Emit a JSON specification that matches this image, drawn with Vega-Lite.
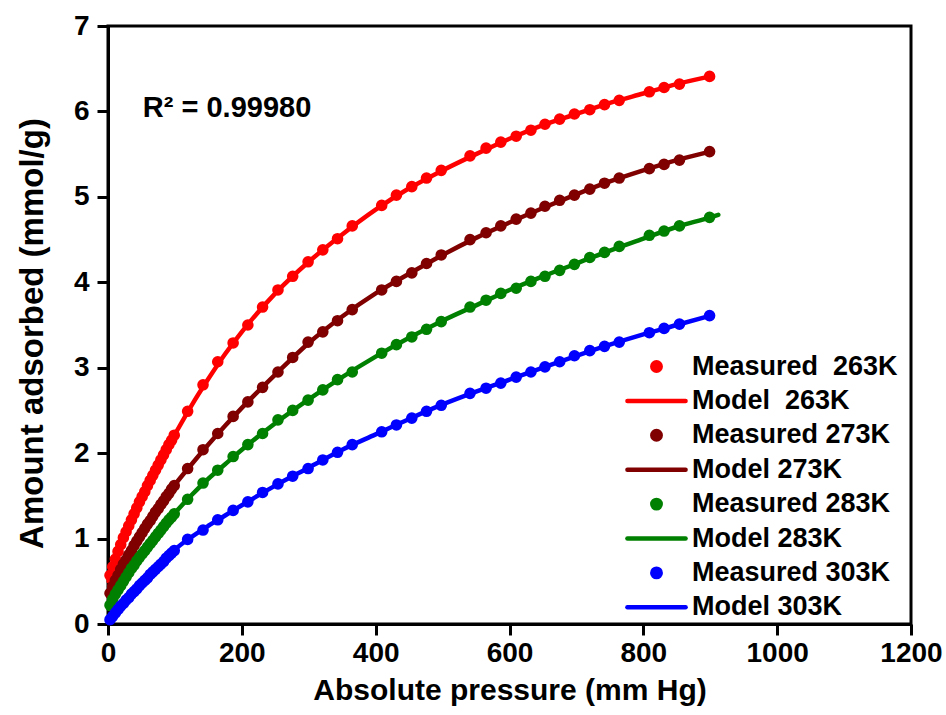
{
  "$schema": "https://vega.github.io/schema/vega-lite/v6.json",
  "autosize": "none",
  "width": 803,
  "height": 598,
  "padding": {"left": 108, "top": 26, "right": 35, "bottom": 91},
  "background": "white",
  "config": {
    "font": "Liberation Sans",
    "view": {"stroke": "black", "strokeWidth": 3},
    "axis": {
      "grid": false,
      "labelFont": "Liberation Sans", "labelFontSize": 28, "labelFontWeight": "bold", "labelColor": "black",
      "titleFont": "Liberation Sans", "titleFontSize": 30, "titleFontWeight": "bold", "titleColor": "black",
      "domainColor": "black", "domainWidth": 3, "tickColor": "black", "tickWidth": 3, "tickSize": 11
    }
  },
  "datasets": {
    "meas": [
      {"P":3,"q":0.57,"s":"Measured 263K"},{"P":7,"q":0.67,"s":"Measured 263K"},{"P":11,"q":0.76,"s":"Measured 263K"},{"P":15,"q":0.85,"s":"Measured 263K"},{"P":19,"q":0.93,"s":"Measured 263K"},{"P":23,"q":1.01,"s":"Measured 263K"},{"P":27,"q":1.08,"s":"Measured 263K"},{"P":31,"q":1.15,"s":"Measured 263K"},{"P":35,"q":1.22,"s":"Measured 263K"},{"P":39,"q":1.29,"s":"Measured 263K"},{"P":43,"q":1.36,"s":"Measured 263K"},{"P":47,"q":1.43,"s":"Measured 263K"},{"P":51,"q":1.49,"s":"Measured 263K"},{"P":55,"q":1.55,"s":"Measured 263K"},{"P":59,"q":1.62,"s":"Measured 263K"},{"P":63,"q":1.68,"s":"Measured 263K"},{"P":67,"q":1.74,"s":"Measured 263K"},{"P":71,"q":1.80,"s":"Measured 263K"},{"P":75,"q":1.86,"s":"Measured 263K"},{"P":79,"q":1.92,"s":"Measured 263K"},{"P":83,"q":1.98,"s":"Measured 263K"},{"P":87,"q":2.04,"s":"Measured 263K"},{"P":91,"q":2.10,"s":"Measured 263K"},{"P":95,"q":2.15,"s":"Measured 263K"},{"P":99,"q":2.21,"s":"Measured 263K"},
      {"P":119,"q":2.49,"s":"Measured 263K"},{"P":142,"q":2.80,"s":"Measured 263K"},{"P":164,"q":3.07,"s":"Measured 263K"},{"P":187,"q":3.29,"s":"Measured 263K"},{"P":209,"q":3.50,"s":"Measured 263K"},{"P":231,"q":3.71,"s":"Measured 263K"},{"P":254,"q":3.91,"s":"Measured 263K"},{"P":276,"q":4.07,"s":"Measured 263K"},{"P":299,"q":4.24,"s":"Measured 263K"},{"P":321,"q":4.38,"s":"Measured 263K"},{"P":343,"q":4.51,"s":"Measured 263K"},{"P":365,"q":4.66,"s":"Measured 263K"},{"P":409,"q":4.90,"s":"Measured 263K"},{"P":431,"q":5.02,"s":"Measured 263K"},{"P":454,"q":5.12,"s":"Measured 263K"},{"P":476,"q":5.22,"s":"Measured 263K"},{"P":498,"q":5.31,"s":"Measured 263K"},{"P":541,"q":5.48,"s":"Measured 263K"},{"P":565,"q":5.57,"s":"Measured 263K"},{"P":587,"q":5.64,"s":"Measured 263K"},{"P":610,"q":5.71,"s":"Measured 263K"},{"P":632,"q":5.78,"s":"Measured 263K"},{"P":653,"q":5.85,"s":"Measured 263K"},{"P":675,"q":5.91,"s":"Measured 263K"},{"P":697,"q":5.97,"s":"Measured 263K"},{"P":720,"q":6.02,"s":"Measured 263K"},{"P":742,"q":6.08,"s":"Measured 263K"},{"P":764,"q":6.13,"s":"Measured 263K"},{"P":809,"q":6.23,"s":"Measured 263K"},{"P":831,"q":6.28,"s":"Measured 263K"},{"P":854,"q":6.32,"s":"Measured 263K"},{"P":899,"q":6.41,"s":"Measured 263K"},

      {"P":3,"q":0.36,"s":"Measured 273K"},{"P":7,"q":0.44,"s":"Measured 273K"},{"P":11,"q":0.51,"s":"Measured 273K"},{"P":15,"q":0.57,"s":"Measured 273K"},{"P":19,"q":0.64,"s":"Measured 273K"},{"P":23,"q":0.70,"s":"Measured 273K"},{"P":27,"q":0.75,"s":"Measured 273K"},{"P":31,"q":0.81,"s":"Measured 273K"},{"P":35,"q":0.86,"s":"Measured 273K"},{"P":39,"q":0.92,"s":"Measured 273K"},{"P":43,"q":0.97,"s":"Measured 273K"},{"P":47,"q":1.02,"s":"Measured 273K"},{"P":51,"q":1.07,"s":"Measured 273K"},{"P":55,"q":1.12,"s":"Measured 273K"},{"P":59,"q":1.17,"s":"Measured 273K"},{"P":63,"q":1.21,"s":"Measured 273K"},{"P":67,"q":1.26,"s":"Measured 273K"},{"P":71,"q":1.31,"s":"Measured 273K"},{"P":75,"q":1.35,"s":"Measured 273K"},{"P":79,"q":1.40,"s":"Measured 273K"},{"P":83,"q":1.44,"s":"Measured 273K"},{"P":87,"q":1.49,"s":"Measured 273K"},{"P":91,"q":1.53,"s":"Measured 273K"},{"P":95,"q":1.58,"s":"Measured 273K"},{"P":99,"q":1.62,"s":"Measured 273K"},
      {"P":119,"q":1.82,"s":"Measured 273K"},{"P":142,"q":2.04,"s":"Measured 273K"},{"P":164,"q":2.23,"s":"Measured 273K"},{"P":187,"q":2.43,"s":"Measured 273K"},{"P":209,"q":2.60,"s":"Measured 273K"},{"P":231,"q":2.77,"s":"Measured 273K"},{"P":254,"q":2.95,"s":"Measured 273K"},{"P":276,"q":3.12,"s":"Measured 273K"},{"P":299,"q":3.30,"s":"Measured 273K"},{"P":321,"q":3.42,"s":"Measured 273K"},{"P":343,"q":3.55,"s":"Measured 273K"},{"P":365,"q":3.68,"s":"Measured 273K"},{"P":409,"q":3.91,"s":"Measured 273K"},{"P":431,"q":4.01,"s":"Measured 273K"},{"P":454,"q":4.11,"s":"Measured 273K"},{"P":476,"q":4.22,"s":"Measured 273K"},{"P":498,"q":4.32,"s":"Measured 273K"},{"P":541,"q":4.50,"s":"Measured 273K"},{"P":565,"q":4.58,"s":"Measured 273K"},{"P":587,"q":4.66,"s":"Measured 273K"},{"P":610,"q":4.74,"s":"Measured 273K"},{"P":632,"q":4.81,"s":"Measured 273K"},{"P":653,"q":4.89,"s":"Measured 273K"},{"P":675,"q":4.96,"s":"Measured 273K"},{"P":697,"q":5.02,"s":"Measured 273K"},{"P":720,"q":5.09,"s":"Measured 273K"},{"P":742,"q":5.16,"s":"Measured 273K"},{"P":764,"q":5.22,"s":"Measured 273K"},{"P":809,"q":5.33,"s":"Measured 273K"},{"P":831,"q":5.38,"s":"Measured 273K"},{"P":854,"q":5.43,"s":"Measured 273K"},{"P":899,"q":5.53,"s":"Measured 273K"},

      {"P":3,"q":0.22,"s":"Measured 283K"},{"P":7,"q":0.29,"s":"Measured 283K"},{"P":11,"q":0.35,"s":"Measured 283K"},{"P":15,"q":0.40,"s":"Measured 283K"},{"P":19,"q":0.45,"s":"Measured 283K"},{"P":23,"q":0.50,"s":"Measured 283K"},{"P":27,"q":0.55,"s":"Measured 283K"},{"P":31,"q":0.60,"s":"Measured 283K"},{"P":35,"q":0.65,"s":"Measured 283K"},{"P":39,"q":0.69,"s":"Measured 283K"},{"P":43,"q":0.74,"s":"Measured 283K"},{"P":47,"q":0.78,"s":"Measured 283K"},{"P":51,"q":0.82,"s":"Measured 283K"},{"P":55,"q":0.86,"s":"Measured 283K"},{"P":59,"q":0.90,"s":"Measured 283K"},{"P":63,"q":0.94,"s":"Measured 283K"},{"P":67,"q":0.98,"s":"Measured 283K"},{"P":71,"q":1.02,"s":"Measured 283K"},{"P":75,"q":1.06,"s":"Measured 283K"},{"P":79,"q":1.10,"s":"Measured 283K"},{"P":83,"q":1.14,"s":"Measured 283K"},{"P":87,"q":1.18,"s":"Measured 283K"},{"P":91,"q":1.22,"s":"Measured 283K"},{"P":95,"q":1.25,"s":"Measured 283K"},{"P":99,"q":1.29,"s":"Measured 283K"},
      {"P":119,"q":1.46,"s":"Measured 283K"},{"P":142,"q":1.65,"s":"Measured 283K"},{"P":164,"q":1.80,"s":"Measured 283K"},{"P":187,"q":1.96,"s":"Measured 283K"},{"P":209,"q":2.10,"s":"Measured 283K"},{"P":231,"q":2.23,"s":"Measured 283K"},{"P":254,"q":2.39,"s":"Measured 283K"},{"P":276,"q":2.50,"s":"Measured 283K"},{"P":299,"q":2.62,"s":"Measured 283K"},{"P":321,"q":2.74,"s":"Measured 283K"},{"P":343,"q":2.86,"s":"Measured 283K"},{"P":365,"q":2.95,"s":"Measured 283K"},{"P":409,"q":3.17,"s":"Measured 283K"},{"P":431,"q":3.27,"s":"Measured 283K"},{"P":454,"q":3.36,"s":"Measured 283K"},{"P":476,"q":3.45,"s":"Measured 283K"},{"P":498,"q":3.54,"s":"Measured 283K"},{"P":541,"q":3.71,"s":"Measured 283K"},{"P":565,"q":3.79,"s":"Measured 283K"},{"P":587,"q":3.87,"s":"Measured 283K"},{"P":610,"q":3.93,"s":"Measured 283K"},{"P":632,"q":4.01,"s":"Measured 283K"},{"P":653,"q":4.07,"s":"Measured 283K"},{"P":675,"q":4.14,"s":"Measured 283K"},{"P":697,"q":4.21,"s":"Measured 283K"},{"P":720,"q":4.29,"s":"Measured 283K"},{"P":742,"q":4.35,"s":"Measured 283K"},{"P":764,"q":4.42,"s":"Measured 283K"},{"P":809,"q":4.55,"s":"Measured 283K"},{"P":831,"q":4.60,"s":"Measured 283K"},{"P":854,"q":4.66,"s":"Measured 283K"},{"P":899,"q":4.76,"s":"Measured 283K"},

      {"P":3,"q":0.05,"s":"Measured 303K"},{"P":7,"q":0.09,"s":"Measured 303K"},{"P":11,"q":0.13,"s":"Measured 303K"},{"P":15,"q":0.17,"s":"Measured 303K"},{"P":19,"q":0.21,"s":"Measured 303K"},{"P":23,"q":0.24,"s":"Measured 303K"},{"P":27,"q":0.28,"s":"Measured 303K"},{"P":31,"q":0.31,"s":"Measured 303K"},{"P":35,"q":0.35,"s":"Measured 303K"},{"P":39,"q":0.38,"s":"Measured 303K"},{"P":43,"q":0.41,"s":"Measured 303K"},{"P":47,"q":0.45,"s":"Measured 303K"},{"P":51,"q":0.48,"s":"Measured 303K"},{"P":55,"q":0.51,"s":"Measured 303K"},{"P":59,"q":0.54,"s":"Measured 303K"},{"P":63,"q":0.58,"s":"Measured 303K"},{"P":67,"q":0.61,"s":"Measured 303K"},{"P":71,"q":0.64,"s":"Measured 303K"},{"P":75,"q":0.67,"s":"Measured 303K"},{"P":79,"q":0.70,"s":"Measured 303K"},{"P":83,"q":0.73,"s":"Measured 303K"},{"P":87,"q":0.77,"s":"Measured 303K"},{"P":91,"q":0.80,"s":"Measured 303K"},{"P":95,"q":0.83,"s":"Measured 303K"},{"P":99,"q":0.86,"s":"Measured 303K"},
      {"P":119,"q":0.99,"s":"Measured 303K"},{"P":142,"q":1.10,"s":"Measured 303K"},{"P":164,"q":1.22,"s":"Measured 303K"},{"P":187,"q":1.33,"s":"Measured 303K"},{"P":209,"q":1.43,"s":"Measured 303K"},{"P":231,"q":1.54,"s":"Measured 303K"},{"P":254,"q":1.64,"s":"Measured 303K"},{"P":276,"q":1.73,"s":"Measured 303K"},{"P":299,"q":1.82,"s":"Measured 303K"},{"P":321,"q":1.92,"s":"Measured 303K"},{"P":343,"q":2.01,"s":"Measured 303K"},{"P":365,"q":2.10,"s":"Measured 303K"},{"P":409,"q":2.25,"s":"Measured 303K"},{"P":431,"q":2.33,"s":"Measured 303K"},{"P":454,"q":2.41,"s":"Measured 303K"},{"P":476,"q":2.49,"s":"Measured 303K"},{"P":498,"q":2.56,"s":"Measured 303K"},{"P":541,"q":2.70,"s":"Measured 303K"},{"P":565,"q":2.76,"s":"Measured 303K"},{"P":587,"q":2.82,"s":"Measured 303K"},{"P":610,"q":2.89,"s":"Measured 303K"},{"P":632,"q":2.95,"s":"Measured 303K"},{"P":653,"q":3.01,"s":"Measured 303K"},{"P":675,"q":3.07,"s":"Measured 303K"},{"P":697,"q":3.14,"s":"Measured 303K"},{"P":720,"q":3.20,"s":"Measured 303K"},{"P":742,"q":3.25,"s":"Measured 303K"},{"P":764,"q":3.30,"s":"Measured 303K"},{"P":809,"q":3.41,"s":"Measured 303K"},{"P":831,"q":3.46,"s":"Measured 303K"},{"P":854,"q":3.51,"s":"Measured 303K"},{"P":899,"q":3.61,"s":"Measured 303K"}
    ],
    "model": [
      {"P":1,"q":0.50,"s":"Model 263K"},{"P":5,"q":0.62,"s":"Model 263K"},{"P":10,"q":0.74,"s":"Model 263K"},{"P":20,"q":0.95,"s":"Model 263K"},{"P":30,"q":1.14,"s":"Model 263K"},{"P":40,"q":1.31,"s":"Model 263K"},{"P":50,"q":1.48,"s":"Model 263K"},{"P":60,"q":1.63,"s":"Model 263K"},{"P":70,"q":1.79,"s":"Model 263K"},{"P":80,"q":1.94,"s":"Model 263K"},{"P":90,"q":2.08,"s":"Model 263K"},{"P":100,"q":2.22,"s":"Model 263K"},{"P":125,"q":2.56,"s":"Model 263K"},{"P":150,"q":2.87,"s":"Model 263K"},{"P":175,"q":3.16,"s":"Model 263K"},{"P":200,"q":3.42,"s":"Model 263K"},{"P":250,"q":3.87,"s":"Model 263K"},{"P":300,"q":4.24,"s":"Model 263K"},{"P":350,"q":4.56,"s":"Model 263K"},{"P":400,"q":4.85,"s":"Model 263K"},{"P":450,"q":5.10,"s":"Model 263K"},{"P":500,"q":5.31,"s":"Model 263K"},{"P":550,"q":5.50,"s":"Model 263K"},{"P":600,"q":5.68,"s":"Model 263K"},{"P":650,"q":5.84,"s":"Model 263K"},{"P":700,"q":5.97,"s":"Model 263K"},{"P":750,"q":6.10,"s":"Model 263K"},{"P":800,"q":6.21,"s":"Model 263K"},{"P":850,"q":6.32,"s":"Model 263K"},{"P":900,"q":6.41,"s":"Model 263K"},

      {"P":1,"q":0.32,"s":"Model 273K"},{"P":5,"q":0.40,"s":"Model 273K"},{"P":10,"q":0.49,"s":"Model 273K"},{"P":20,"q":0.65,"s":"Model 273K"},{"P":30,"q":0.79,"s":"Model 273K"},{"P":40,"q":0.93,"s":"Model 273K"},{"P":50,"q":1.06,"s":"Model 273K"},{"P":60,"q":1.18,"s":"Model 273K"},{"P":70,"q":1.30,"s":"Model 273K"},{"P":80,"q":1.41,"s":"Model 273K"},{"P":90,"q":1.52,"s":"Model 273K"},{"P":100,"q":1.63,"s":"Model 273K"},{"P":125,"q":1.87,"s":"Model 273K"},{"P":150,"q":2.10,"s":"Model 273K"},{"P":175,"q":2.32,"s":"Model 273K"},{"P":200,"q":2.53,"s":"Model 273K"},{"P":250,"q":2.92,"s":"Model 273K"},{"P":300,"q":3.29,"s":"Model 273K"},{"P":350,"q":3.60,"s":"Model 273K"},{"P":400,"q":3.87,"s":"Model 273K"},{"P":450,"q":4.10,"s":"Model 273K"},{"P":500,"q":4.32,"s":"Model 273K"},{"P":550,"q":4.52,"s":"Model 273K"},{"P":600,"q":4.70,"s":"Model 273K"},{"P":650,"q":4.87,"s":"Model 273K"},{"P":700,"q":5.03,"s":"Model 273K"},{"P":750,"q":5.18,"s":"Model 273K"},{"P":800,"q":5.31,"s":"Model 273K"},{"P":850,"q":5.43,"s":"Model 273K"},{"P":900,"q":5.53,"s":"Model 273K"},

      {"P":1,"q":0.18,"s":"Model 283K"},{"P":5,"q":0.26,"s":"Model 283K"},{"P":10,"q":0.33,"s":"Model 283K"},{"P":20,"q":0.47,"s":"Model 283K"},{"P":30,"q":0.59,"s":"Model 283K"},{"P":40,"q":0.70,"s":"Model 283K"},{"P":50,"q":0.81,"s":"Model 283K"},{"P":60,"q":0.91,"s":"Model 283K"},{"P":70,"q":1.01,"s":"Model 283K"},{"P":80,"q":1.11,"s":"Model 283K"},{"P":90,"q":1.21,"s":"Model 283K"},{"P":100,"q":1.30,"s":"Model 283K"},{"P":125,"q":1.51,"s":"Model 283K"},{"P":150,"q":1.70,"s":"Model 283K"},{"P":175,"q":1.87,"s":"Model 283K"},{"P":200,"q":2.04,"s":"Model 283K"},{"P":250,"q":2.35,"s":"Model 283K"},{"P":300,"q":2.63,"s":"Model 283K"},{"P":350,"q":2.89,"s":"Model 283K"},{"P":400,"q":3.13,"s":"Model 283K"},{"P":450,"q":3.35,"s":"Model 283K"},{"P":500,"q":3.55,"s":"Model 283K"},{"P":550,"q":3.73,"s":"Model 283K"},{"P":600,"q":3.91,"s":"Model 283K"},{"P":650,"q":4.07,"s":"Model 283K"},{"P":700,"q":4.22,"s":"Model 283K"},{"P":750,"q":4.37,"s":"Model 283K"},{"P":800,"q":4.51,"s":"Model 283K"},{"P":850,"q":4.65,"s":"Model 283K"},{"P":900,"q":4.76,"s":"Model 283K"},{"P":912,"q":4.79,"s":"Model 283K"},

      {"P":1,"q":0.02,"s":"Model 303K"},{"P":5,"q":0.07,"s":"Model 303K"},{"P":10,"q":0.12,"s":"Model 303K"},{"P":20,"q":0.22,"s":"Model 303K"},{"P":30,"q":0.30,"s":"Model 303K"},{"P":40,"q":0.39,"s":"Model 303K"},{"P":50,"q":0.47,"s":"Model 303K"},{"P":60,"q":0.55,"s":"Model 303K"},{"P":70,"q":0.63,"s":"Model 303K"},{"P":80,"q":0.71,"s":"Model 303K"},{"P":90,"q":0.79,"s":"Model 303K"},{"P":100,"q":0.87,"s":"Model 303K"},{"P":125,"q":1.02,"s":"Model 303K"},{"P":150,"q":1.15,"s":"Model 303K"},{"P":175,"q":1.27,"s":"Model 303K"},{"P":200,"q":1.39,"s":"Model 303K"},{"P":250,"q":1.62,"s":"Model 303K"},{"P":300,"q":1.83,"s":"Model 303K"},{"P":350,"q":2.04,"s":"Model 303K"},{"P":400,"q":2.22,"s":"Model 303K"},{"P":450,"q":2.40,"s":"Model 303K"},{"P":500,"q":2.57,"s":"Model 303K"},{"P":550,"q":2.72,"s":"Model 303K"},{"P":600,"q":2.86,"s":"Model 303K"},{"P":650,"q":3.00,"s":"Model 303K"},{"P":700,"q":3.14,"s":"Model 303K"},{"P":750,"q":3.27,"s":"Model 303K"},{"P":800,"q":3.39,"s":"Model 303K"},{"P":850,"q":3.50,"s":"Model 303K"},{"P":900,"q":3.61,"s":"Model 303K"}
    ],
    "note": [{"P": 52, "q": 6.04, "t": "R² = 0.99980"}]
  },
  "layer": [
    {
      "data": {"name": "model"},
      "mark": {"type": "line", "strokeWidth": 4.5, "interpolate": "monotone", "strokeCap": "round"},
      "encoding": {
        "x": {"field": "P", "type": "quantitative", "scale": {"domain": [0, 1200], "nice": false}, "axis": {"title": "Absolute pressure (mm Hg)", "values": [0, 200, 400, 600, 800, 1000, 1200], "format": "d", "labelPadding": 4, "titlePadding": 8, "labelFlush": false}},
        "y": {"field": "q", "type": "quantitative", "scale": {"domain": [0, 7], "nice": false}, "axis": {"title": "Amount adsorbed (mmol/g)", "values": [0, 1, 2, 3, 4, 5, 6, 7], "format": "d", "labelPadding": 8, "titlePadding": 24, "titleFontSize": 33, "titleY": 307}},
        "color": {
          "field": "s", "type": "nominal",
          "scale": {
            "domain": ["Measured 263K", "Model 263K", "Measured 273K", "Model 273K", "Measured 283K", "Model 283K", "Measured 303K", "Model 303K"],
            "range": ["#ff0000", "#ff0000", "#800000", "#800000", "#008000", "#008000", "#0000ff", "#0000ff"]
          },
          "legend": {
            "orient": "none", "legendX": 535, "legendY": 327, "title": null, "padding": 0,
            "labelFont": "Liberation Sans", "labelFontSize": 27, "labelFontWeight": "bold", "labelColor": "black", "labelLimit": 400,
            "symbolSize": 71, "symbolStrokeWidth": 4.5, "rowPadding": 6.4, "labelOffset": 22,
            "labelExpr": "datum.label == 'Measured 263K' ? 'Measured\u00a0 263K' : datum.label == 'Model 263K' ? 'Model\u00a0 263K' : datum.label",
            "encode": {
              "symbols": {
                "update": {
                  "shape": {"scale": "shape", "field": "value"},
                  "fill": {"scale": "color", "field": "value"},
                  "stroke": {"scale": "color", "field": "value"},
                  "strokeWidth": {"value": 4.5},
                  "strokeCap": {"value": "round"},
                  "opacity": {"value": 1}
                }
              }
            }
          }
        }
      }
    },
    {
      "data": {"name": "meas"},
      "mark": {"type": "point", "filled": true, "size": 135, "opacity": 1},
      "encoding": {
        "x": {"field": "P", "type": "quantitative"},
        "y": {"field": "q", "type": "quantitative"},
        "color": {"field": "s", "type": "nominal"},
        "shape": {
          "field": "s", "type": "nominal", "legend": null,
          "scale": {
            "domain": ["Measured 263K", "Model 263K", "Measured 273K", "Model 273K", "Measured 283K", "Model 283K", "Measured 303K", "Model 303K"],
            "range": ["circle", "M-6.9,0L6.9,0", "circle", "M-6.9,0L6.9,0", "circle", "M-6.9,0L6.9,0", "circle", "M-6.9,0L6.9,0"]
          }
        }
      }
    },
    {
      "data": {"name": "note"},
      "mark": {"type": "text", "align": "left", "baseline": "middle", "font": "Liberation Sans", "fontSize": 29, "fontWeight": "bold", "color": "black"},
      "encoding": {
        "x": {"field": "P", "type": "quantitative"},
        "y": {"field": "q", "type": "quantitative"},
        "text": {"field": "t"}
      }
    }
  ]
}
